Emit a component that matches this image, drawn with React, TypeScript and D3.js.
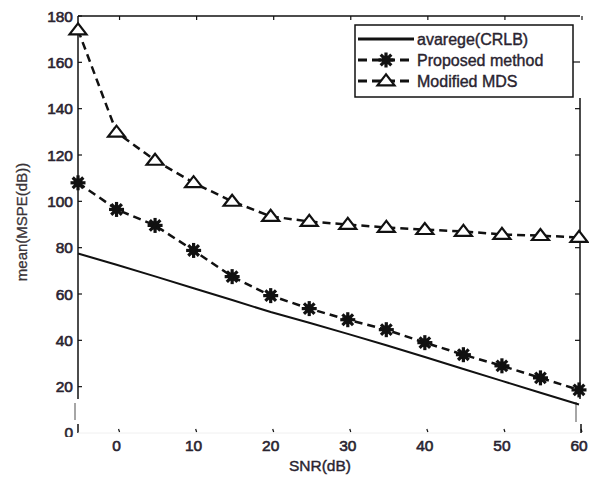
import React from "react";
import * as d3 from "d3";

const snr = [-5, 0, 5, 10, 15, 20, 25, 30, 35, 40, 45, 50, 55, 60];
const crlb = [77.5, 72.6, 67.6, 62.5, 57.4, 52.2, 47.6, 42.8, 37.9, 32.8, 27.6, 22.5, 17.4, 12.3];
const proposed = [108, 96.5, 89.6, 78.8, 67.5, 59.3, 53.7, 48.9, 44.6, 39, 33.8, 29, 23.8, 18.6];
const modifiedMds = [174, 129.8, 117.7, 108, 100, 93.5, 91.3, 90, 88.7, 87.8, 87, 85.7, 85.2, 84.4];
const xTicks = [0, 10, 20, 30, 40, 50, 60];
const yTicks = [20, 40, 60, 80, 100, 120, 140, 160, 180];
const legendLabels = ["avarege(CRLB)", "Proposed method", "Modified MDS"];

const L = 78, R = 580, T = 16, B = 433;
const FONT = "'Liberation Sans', Arial, sans-serif";
const TXT = "#2a2430";

function Star({ x, y, r = 7.5 }: { x: number; y: number; r?: number }) {
  const lines = [0, 45, 90, 135].map((a) => {
    const rad = (a * Math.PI) / 180;
    return (
      <line key={a} x1={x - r * Math.cos(rad)} y1={y - r * Math.sin(rad)} x2={x + r * Math.cos(rad)} y2={y + r * Math.sin(rad)} stroke="#111" strokeWidth={3.2} />
    );
  });
  return (
    <g>
      <circle cx={x} cy={y} r={4.5} fill="#111" />
      {lines}
    </g>
  );
}

function Tri({ x, y }: { x: number; y: number }) {
  const w = 8.5, h = 11;
  const p = `${x},${y - h * 0.6} ${x - w},${y + h * 0.4} ${x + w},${y + h * 0.4}`;
  return <polygon points={p} fill="#fff" stroke="#111" strokeWidth={2.2} />;
}

export default function App() {
  const x = d3.scaleLinear().domain([-5, 60]).range([L, R - 1]);
  const y = d3.scaleLinear().domain([0, 180]).range([B, T]);
  const line = d3.line<number>().x((_, i) => x(snr[i])).y((d) => y(d));

  return (
    <svg width={589} height={477} style={{ position: "absolute", left: 0, top: 0, background: "#fff" }}>
      <rect x={0} y={0} width={589} height={477} fill="#fff" />
      {/* frame */}
      <line x1={L} y1={T} x2={R} y2={T} stroke="#111" strokeWidth={1.5} />
      <line x1={L} y1={T} x2={L} y2={399} stroke="#111" strokeWidth={1.5} />
      <line x1={75} y1={403} x2={75} y2={420} stroke="#888" strokeWidth={1.5} />
      <line x1={L} y1={424} x2={L} y2={B} stroke="#111" strokeWidth={1.5} />
      <line x1={R} y1={98} x2={R} y2={399} stroke="#111" strokeWidth={1.5} />
      <line x1={576} y1={402} x2={576} y2={422} stroke="#888" strokeWidth={1.5} />
      <line x1={581} y1={424} x2={581} y2={B} stroke="#111" strokeWidth={1.5} />
      <line x1={L} y1={B} x2={R} y2={B} stroke="#f0f0f0" strokeWidth={1} />
      {/* x ticks */}
      {xTicks.map((t) => (
        <g key={t}>
          <line x1={x(t) + 3} y1={T} x2={x(t) + 3} y2={T + 4} stroke="#111" strokeWidth={1.2} />
          <line x1={x(t) + 2} y1={B - 4} x2={x(t) + 3} y2={B - 1} stroke="#111" strokeWidth={1.2} />
          <text x={x(t)} y={451} textAnchor="middle" fontFamily={FONT} fontSize={15.5} fill={TXT} stroke={TXT} strokeWidth={0.6}>
            {t}
          </text>
        </g>
      ))}
      {/* y ticks */}
      {yTicks.map((t) => (
        <g key={t}>
          <line x1={L} y1={y(t)} x2={L + 4} y2={y(t)} stroke="#111" strokeWidth={1.2} />
          {y(t) > 98 && <line x1={R - 5} y1={y(t)} x2={R} y2={y(t)} stroke="#111" strokeWidth={1.2} />}
          <text x={73} y={y(t) + 5.5} textAnchor="end" fontFamily={FONT} fontSize={15.5} fill={TXT} stroke={TXT} strokeWidth={0.6}>
            {t}
          </text>
        </g>
      ))}
      <defs>
        <clipPath id="zclip">
          <rect x={55} y={420} width={30} height={17} />
        </clipPath>
      </defs>
      <text x={73} y={B + 5} textAnchor="end" fontFamily={FONT} fontSize={15.5} fill={TXT} stroke={TXT} strokeWidth={0.6} clipPath="url(#zclip)">0</text>
      {/* axis titles */}
      <text x={320} y={471} textAnchor="middle" fontFamily={FONT} fontSize={15.5} fill={TXT} stroke={TXT} strokeWidth={0.4}>
        SNR(dB)
      </text>
      <text transform="translate(27,222) rotate(-90)" textAnchor="middle" fontFamily={FONT} fontSize={15} fill="#3a3438" stroke="#3a3438" strokeWidth={0.3}>
        mean(MSPE(dB))
      </text>
      {/* series */}
      <path d={line(crlb) || ""} fill="none" stroke="#111" strokeWidth={2} />
      <path d={line(proposed) || ""} fill="none" stroke="#111" strokeWidth={2.5} strokeDasharray="8 5" />
      <path d={line(modifiedMds) || ""} fill="none" stroke="#111" strokeWidth={2.5} strokeDasharray="8 5" />
      {proposed.map((v, i) => (
        <Star key={i} x={x(snr[i])} y={y(v)} />
      ))}
      {modifiedMds.map((v, i) => (
        <Tri key={i} x={x(snr[i])} y={y(v)} />
      ))}
      {/* legend */}
      <rect x={355} y={25} width={218} height={72} fill="#fff" stroke="#111" strokeWidth={1.5} />
      <line x1={573} y1={62} x2={R} y2={62} stroke="#111" strokeWidth={1.2} />
      {legendLabels.map((lab, i) => {
        const ly = 39 + i * 21;
        return (
          <g key={lab}>
            <line x1={358} y1={ly} x2={414} y2={ly} stroke="#111" strokeWidth={3} strokeDasharray={i === 0 ? undefined : "9 5"} />
            {i === 1 && <Star x={386} y={ly} />}
            {i === 2 && <Tri x={386} y={ly} />}
            <text x={417} y={ly + 5.5} fontFamily={FONT} fontSize={16} fill={TXT} stroke={TXT} strokeWidth={0.4}>
              {lab}
            </text>
          </g>
        );
      })}
    </svg>
  );
}
